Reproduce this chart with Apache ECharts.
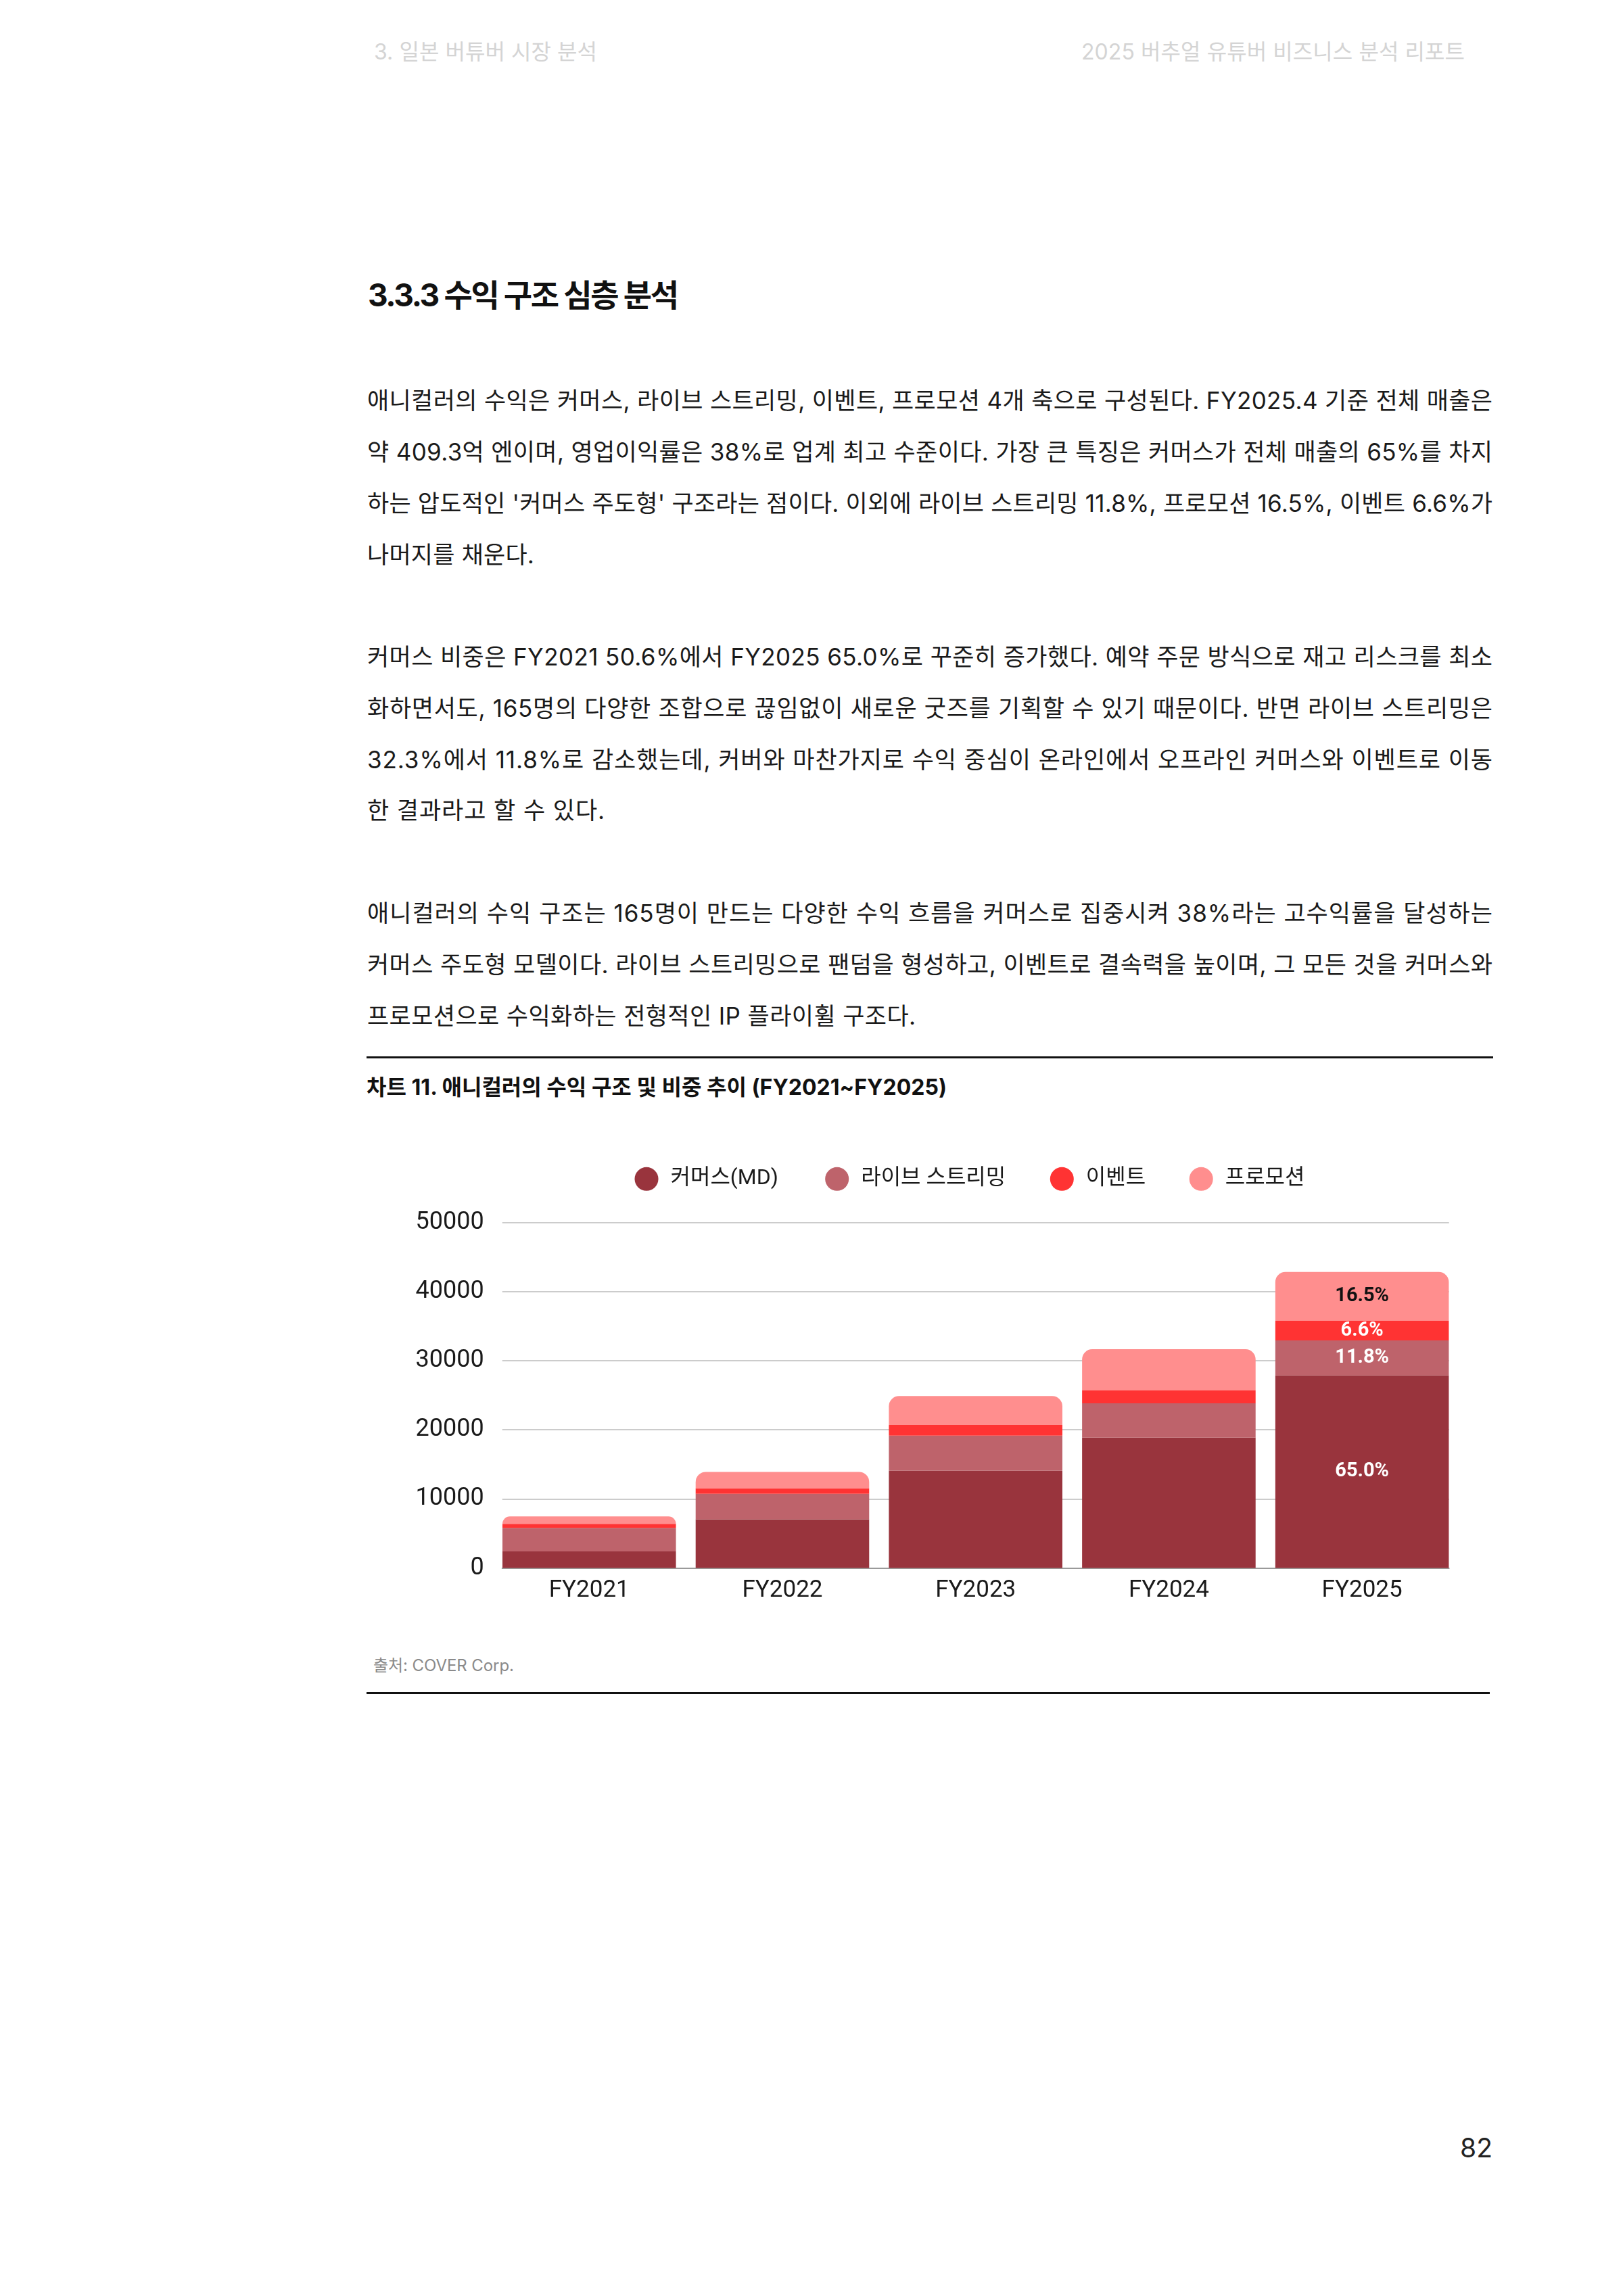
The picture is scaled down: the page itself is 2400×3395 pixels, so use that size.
<!DOCTYPE html>
<html lang="ko">
<head>
<meta charset="utf-8">
<script src="https://cdn.jsdelivr.net/npm/echarts@6/dist/echarts.min.js"></script>
<style>
html,body{margin:0;padding:0;background:#fff;}
body{width:2400px;height:3395px;position:relative;overflow:hidden;font-family:Inter,"Noto Sans CJK KR",sans-serif;color:#1a1a1a;}
.t{position:absolute;white-space:nowrap;height:50px;line-height:50px;}
.p{font-size:35px;left:543px;}
.rule{position:absolute;height:3px;background:#111;}
#chart{position:absolute;left:0;top:1680px;width:2400px;height:740px;}
</style>
</head>
<body>
<div class="t fit" data-w="330" style="left:553px;top:52px;font-size:32px;color:#d4d4d4;">3. 일본 버튜버 시장 분석</div>
<div class="t fit" data-w="567" style="left:1599px;top:52px;font-size:32px;color:#d4d4d4;">2025 버추얼 유튜버 비즈니스 분석 리포트</div>

<div class="t fit" data-w="460" style="left:544px;top:406px;height:60px;line-height:60px;font-size:46px;font-weight:700;color:#111;">3.3.3 수익 구조 심층 분석</div>

<div class="t p fit" data-w="1664" style="top:567px;">애니컬러의 수익은 커머스, 라이브 스트리밍, 이벤트, 프로모션 4개 축으로 구성된다. FY2025.4 기준 전체 매출은</div>
<div class="t p fit" data-w="1664" style="top:643px;">약 409.3억 엔이며, 영업이익률은 38%로 업계 최고 수준이다. 가장 큰 특징은 커머스가 전체 매출의 65%를 차지</div>
<div class="t p fit" data-w="1664" style="top:719px;">하는 압도적인 '커머스 주도형' 구조라는 점이다. 이외에 라이브 스트리밍 11.8%, 프로모션 16.5%, 이벤트 6.6%가</div>
<div class="t p follow" style="top:795px;">나머지를 채운다.</div>

<div class="t p fit" data-w="1664" style="top:946px;">커머스 비중은 FY2021 50.6%에서 FY2025 65.0%로 꾸준히 증가했다. 예약 주문 방식으로 재고 리스크를 최소</div>
<div class="t p fit" data-w="1664" style="top:1022px;">화하면서도, 165명의 다양한 조합으로 끊임없이 새로운 굿즈를 기획할 수 있기 때문이다. 반면 라이브 스트리밍은</div>
<div class="t p fit" data-w="1664" style="top:1098px;">32.3%에서 11.8%로 감소했는데, 커버와 마찬가지로 수익 중심이 온라인에서 오프라인 커머스와 이벤트로 이동</div>
<div class="t p follow" style="top:1173px;">한 결과라고 할 수 있다.</div>

<div class="t p fit" data-w="1664" style="top:1325px;">애니컬러의 수익 구조는 165명이 만드는 다양한 수익 흐름을 커머스로 집중시켜 38%라는 고수익률을 달성하는</div>
<div class="t p fit" data-w="1664" style="top:1401px;">커머스 주도형 모델이다. 라이브 스트리밍으로 팬덤을 형성하고, 이벤트로 결속력을 높이며, 그 모든 것을 커머스와</div>
<div class="t p follow" style="top:1477px;">프로모션으로 수익화하는 전형적인 IP 플라이휠 구조다.</div>

<div class="rule" style="left:542px;top:1562px;width:1666px;"></div>
<div class="t fit" data-w="858" style="left:542px;top:1583px;font-size:32px;font-weight:700;color:#111;">차트 11. 애니컬러의 수익 구조 및 비중 추이 (FY2021~FY2025)</div>

<div id="chart"></div>

<div class="t fit" data-w="208" style="left:552px;top:2438px;font-size:24px;color:#8a8a8a;">출처: COVER Corp.</div>
<div class="rule" style="left:542px;top:2502px;width:1661px;"></div>

<div class="t" style="left:2133px;top:3151px;width:100px;text-align:center;font-size:39px;color:#222;">82</div>

<script>
// ---- data ----
const categories = ['FY2021', 'FY2022', 'FY2023', 'FY2024', 'FY2025'];
const seriesNames = ['커머스(MD)', '라이브 스트리밍', '이벤트', '프로모션'];
const commerce = [2390, 7040, 14100, 18860, 27880];
const liveStreaming = [3400, 3710, 5050, 4980, 5060];
const eventRevenue = [590, 780, 1560, 1860, 2840];
const promotion = [1080, 2380, 4170, 5960, 7070];
const fy2025Shares = ['65.0%', '11.8%', '6.6%', '16.5%'];
const yMin = 0, yMax = 50000, yStep = 10000;

// ---- styles / layout ----
const colors = ['#99343d', '#be636b', '#ff3333', '#ff8e8e'];
const labelColors = ['#ffffff', '#ffffff', '#ffffff', '#111111'];
const legendLefts = [938.5, 1220.2, 1552.8, 1758.7];
const chartFont = 'Roboto, "Noto Sans CJK KR", sans-serif';

function fitTexts() {
  let lastLs = 0;
  document.querySelectorAll('.fit, .follow').forEach(el => {
    const n = [...el.textContent].length;
    if (el.classList.contains('fit')) {
      el.style.letterSpacing = '0px';
      const w = el.getBoundingClientRect().width;
      const W = +el.dataset.w;
      const ls = (W - w) / Math.max(1, n - 1);
      el.style.letterSpacing = ls + 'px';
      if (el.classList.contains('p')) lastLs = ls;
    } else {
      el.style.letterSpacing = lastLs + 'px';
    }
  });
}

function drawChart() {
  const chart = echarts.init(document.getElementById('chart'));
  const valueSets = [commerce, liveStreaming, eventRevenue, promotion];
  const series = valueSets.map((vals, i) => ({
    name: seriesNames[i],
    type: 'bar',
    stack: 'total',
    xAxisIndex: 0,
    yAxisIndex: 0,
    barCategoryGap: '10.2%',
    itemStyle: { color: colors[i], borderRadius: i === valueSets.length - 1 ? [15, 15, 0, 0] : 0 },
    label: {
      show: false, position: 'inside', color: labelColors[i],
      fontSize: 29, fontWeight: 'bold', fontFamily: chartFont
    },
    emphasis: { disabled: true },
    data: vals.map((v, j) => j === categories.length - 1
      ? { value: v, label: { show: true, formatter: fy2025Shares[i] } }
      : v)
  }));
  chart.setOption({
    animation: false,
    textStyle: { fontFamily: chartFont },
    legend: seriesNames.map((name, i) => ({
      data: [name], left: legendLefts[i], top: 45.8, padding: 0,
      icon: 'circle', itemWidth: 35, itemHeight: 35, selectedMode: false,
      textStyle: { fontSize: 32, color: '#1a1a1a', fontFamily: chartFont, padding: [0, 0, 0, 13] }
    })),
    grid: [
      { left: 728.4, right: 243, top: 127.7, bottom: 101.5 },
      { left: 742.7, right: 257.3, top: 127.7, bottom: 101.5 }
    ],
    xAxis: [
      {
        gridIndex: 0, type: 'category', data: categories,
        axisLine: { show: false }, axisTick: { show: false },
        axisLabel: { fontSize: 35, color: '#1a1a1a', margin: 16, fontFamily: chartFont }
      },
      {
        gridIndex: 1, type: 'value', min: 0, max: 1,
        axisLine: { show: true, lineStyle: { color: '#9a9a9a', width: 2 } },
        axisTick: { show: false }, axisLabel: { show: false }, splitLine: { show: false }
      }
    ],
    yAxis: [
      { gridIndex: 0, type: 'value', min: yMin, max: yMax, interval: yStep, show: false },
      {
        gridIndex: 1, type: 'value', min: yMin, max: yMax, interval: yStep,
        axisLine: { show: false }, axisTick: { show: false },
        axisLabel: { fontSize: 36, color: '#1a1a1a', margin: 27, fontFamily: chartFont,
          formatter: v => String(v) },
        splitLine: { lineStyle: { color: '#cccccc', width: 2 } }
      }
    ],
    series: series
  });
}

(document.fonts && document.fonts.ready ? document.fonts.ready : Promise.resolve()).then(() => {
  fitTexts();
  drawChart();
});
</script>
</body>
</html>
